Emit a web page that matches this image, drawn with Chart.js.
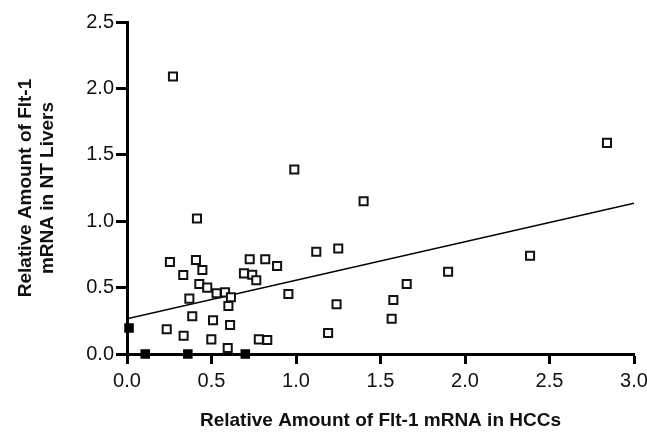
<!DOCTYPE html>
<html>
<head>
<meta charset="utf-8">
<script src="https://cdn.jsdelivr.net/npm/chart.js@4/dist/chart.umd.min.js"></script>
<style>
  html, body { margin: 0; padding: 0; background: #fff; }
  #wrap { width: 647px; height: 432px; }
</style>
</head>
<body>
<div id="wrap"><canvas id="chart" width="647" height="432"></canvas></div>
<script>
// open squares: Flt-1 mRNA, HCC (x) vs NT liver (y)
var hccX = [0.272, 2.84, 0.99, 1.40, 0.414, 1.12, 1.25, 2.385, 0.254, 0.408,
            0.726, 0.818, 0.888, 0.446, 0.333, 0.692, 0.741, 0.765, 1.90, 1.655,
            0.428, 0.475, 0.53, 0.58, 0.615, 0.369, 0.955, 0.60, 1.576, 1.24,
            0.386, 0.509, 0.61, 0.235, 0.335, 1.566, 1.19, 0.499, 0.78, 0.83, 0.596];
var ntY  = [2.09, 1.59, 1.39, 1.15, 1.02, 0.77, 0.795, 0.74, 0.693, 0.708,
            0.713, 0.713, 0.663, 0.633, 0.595, 0.607, 0.597, 0.555, 0.62, 0.527,
            0.527, 0.50, 0.457, 0.464, 0.427, 0.417, 0.452, 0.361, 0.407, 0.374,
            0.284, 0.254, 0.218, 0.186, 0.138, 0.266, 0.158, 0.11, 0.11, 0.105, 0.045];

// filled squares
var filledX = [0.012, 0.108, 0.36, 0.70];
var filledY = [0.196, 0, 0, 0];

// regression line ends
var fitX = [0, 3.0];
var fitY = [0.265, 1.135];

var xTicks = [0, 0.5, 1.0, 1.5, 2.0, 2.5, 3.0];
var yTicks = [0, 0.5, 1.0, 1.5, 2.0, 2.5];

function pts(xs, ys) {
    var out = [];
    for (var i = 0; i < xs.length; i++) out.push({x: xs[i], y: ys[i]});
    return out;
}

var fam = "'Liberation Sans', Arial, sans-serif";

const config = {
    type: 'scatter',
    data: {
        datasets: [
            {
                label: 'fit',
                type: 'line',
                data: pts(fitX, fitY),
                borderColor: '#000',
                borderWidth: 1.5,
                pointRadius: 0,
                fill: false,
                order: 3
            },
            {
                label: 'open',
                data: pts(hccX, ntY),
                pointStyle: 'rect',
                pointRadius: 5.7,
                pointBorderWidth: 2,
                borderColor: '#111',
                backgroundColor: '#fff',
                clip: false,
                order: 2
            },
            {
                label: 'filled',
                data: pts(filledX, filledY),
                pointStyle: 'rect',
                pointRadius: 5.7,
                pointBorderWidth: 1.5,
                borderColor: '#000',
                backgroundColor: '#000',
                clip: false,
                order: 1
            }
        ]
    },
    options: {
        responsive: false,
        animation: false,
        layout: { padding: { top: 22, right: 13, bottom: 0, left: 0 } },
        plugins: { legend: { display: false }, tooltip: { enabled: false } },
        scales: {
            x: {
                type: 'linear',
                min: 0,
                max: 3,
                afterBuildTicks: function (s) { s.ticks = xTicks.map(function (v) { return {value: v}; }); },
                afterFit: function (s) { s.height = 78; s.paddingLeft = 0; s.paddingRight = 0; },
                border: { color: '#000', width: 3 },
                grid: { drawOnChartArea: false, drawTicks: true, tickLength: 10, tickWidth: 3, tickColor: '#000' },
                ticks: {
                    padding: 5,
                    color: '#111',
                    font: { family: fam, size: 20 },
                    callback: function (v) { return Number(v).toFixed(1); }
                },
                title: {
                    display: true,
                    text: 'Relative Amount of Flt-1 mRNA in HCCs',
                    color: '#111',
                    font: { family: fam, size: 19, weight: 'bold' },
                    padding: { top: 0, bottom: 0 }
                }
            },
            y: {
                type: 'linear',
                min: 0,
                max: 2.5,
                afterBuildTicks: function (s) { s.ticks = yTicks.map(function (v) { return {value: v}; }); },
                afterFit: function (s) { s.width = 127; s.paddingTop = 0; s.paddingBottom = 0; },
                border: { color: '#000', width: 3 },
                grid: { drawOnChartArea: false, drawTicks: true, tickLength: 11, tickWidth: 3, tickColor: '#000' },
                ticks: {
                    padding: 2,
                    color: '#111',
                    font: { family: fam, size: 20 },
                    callback: function (v) { return Number(v).toFixed(1); }
                },
                title: {
                    display: true,
                    text: ['Relative Amount of Flt-1', 'mRNA in NT Livers'],
                    color: '#111',
                    font: { family: fam, size: 19, weight: 'bold' },
                    padding: { top: 14, bottom: 0 }
                }
            }
        }
    }
};

var myChart = new Chart(document.getElementById('chart').getContext('2d'), config);
</script>
</body>
</html>
